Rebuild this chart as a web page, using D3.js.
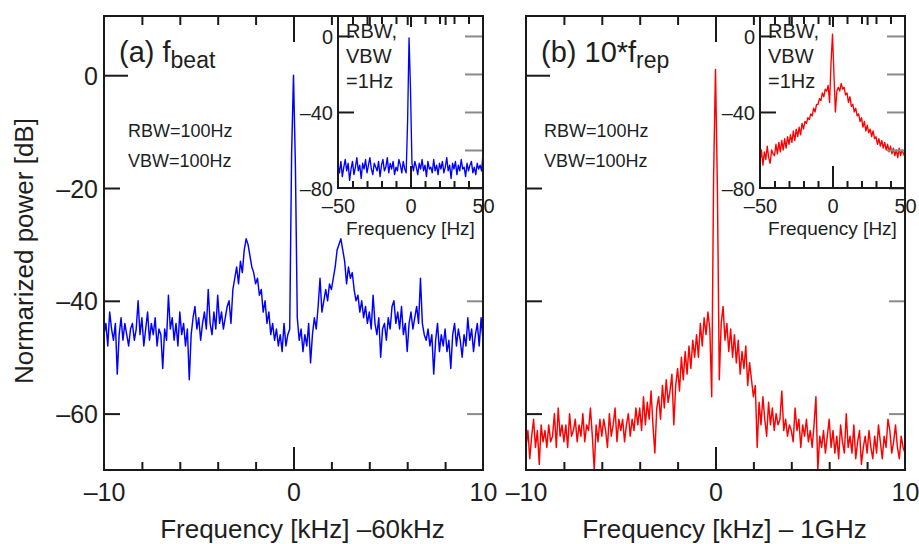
<!DOCTYPE html>
<html><head><meta charset="utf-8">
<script src="https://cdn.jsdelivr.net/npm/d3@7/dist/d3.min.js"></script>
<style>
body{margin:0;background:#fff}
svg{display:block}
text{font-family:"Liberation Sans",Arial,Helvetica,sans-serif;fill:#1e1e1e}
</style>
</head><body>
<svg id="c" width="919" height="544"></svg>
<script>
// ---- sample grids (kHz for main panels, Hz for insets) ----
const mainFreqStart = -10, mainFreqStep = 0.1, mainCount = 201;
const insetFreqStart = -50, insetFreqStep = 1, insetCount = 101;

// ---- (a) f_beat, RBW=VBW=100Hz, dB ----
const beatMain = [
 -46,-44,-48,-42,-45,-47,-44,-53,-46,-43,
 -47,-44,-46,-48,-45,-44,-47,-45,-40,-46,
 -43,-48,-45,-42,-47,-44,-46,-43,-48,-45,
 -46,-52,-45,-47,-39,-45,-43,-47,-44,-48,
 -42,-46,-44,-48,-45,-54,-46,-43,-41,-45,
 -43,-47,-44,-42,-45,-38,-44,-46,-42,-45,
 -39,-44,-42,-45,-43,-41,-40,-44,-38,-36,
 -34,-37,-33,-35,-31,-29,-30,-32,-34,-35,
 -37,-36,-39,-38,-42,-40,-44,-42,-46,-44,
 -47,-45,-48,-46,-49,-44,-48,-46,-45,-14,
 0,
 -16,-43,-47,-45,-49,-46,-48,-44,-51,-46,
 -43,-45,-41,-36,-42,-40,-38,-40,-37,-38,
 -36,-34,-31,-30,-29,-31,-33,-37,-34,-36,
 -35,-38,-40,-39,-42,-40,-43,-41,-44,-42,
 -45,-39,-44,-46,-43,-50,-45,-44,-47,-43,
 -45,-41,-40,-44,-42,-45,-41,-46,-44,-49,
 -44,-42,-45,-43,-41,-44,-36,-44,-46,-47,
 -45,-48,-46,-53,-47,-44,-49,-46,-48,-45,
 -49,-47,-52,-46,-44,-48,-45,-47,-50,-46,
 -48,-43,-47,-45,-49,-46,-44,-48,-43,-47
];
// ---- (b) 10*f_rep, RBW=VBW=100Hz, dB ----
const repMain = [
 -66,-63,-68,-64,-61,-66,-63,-69,-62,-65,
 -63,-66,-62,-65,-64,-60,-66,-59,-64,-62,
 -65,-62,-66,-60,-64,-63,-61,-65,-62,-64,
 -60,-65,-62,-63,-59,-64,-70,-62,-65,-61,
 -64,-61,-63,-66,-60,-64,-62,-59,-65,-61,
 -63,-61,-65,-62,-60,-64,-61,-63,-59,-62,
 -59,-63,-57,-62,-58,-61,-56,-62,-67,-59,
 -57,-61,-55,-59,-54,-58,-56,-53,-62,-55,
 -52,-56,-50,-54,-49,-53,-48,-52,-47,-50,
 -46,-50,-44,-48,-43,-46,-42,-45,-57,-18,
 1,
 -20,-54,-44,-41,-47,-44,-49,-45,-50,-46,
 -51,-47,-53,-49,-52,-48,-55,-51,-54,-57,
 -55,-66,-58,-62,-57,-61,-64,-58,-62,-59,
 -63,-60,-62,-61,-56,-63,-61,-64,-62,-63,
 -65,-59,-63,-61,-66,-62,-64,-61,-65,-63,
 -66,-62,-57,-70,-64,-66,-63,-67,-64,-61,
 -66,-63,-67,-64,-68,-62,-65,-67,-60,-66,
 -64,-67,-62,-68,-65,-63,-69,-66,-64,-67,
 -63,-66,-68,-64,-67,-62,-65,-68,-64,-66,
 -61,-63,-67,-65,-62,-66,-68,-64,-66,-67
];
// ---- insets, RBW=VBW=1Hz, dB ----
const beatInset = [
 -68,-72,-66,-74,-69,-65,-71,-67,-76,-70,
 -66,-73,-69,-64,-71,-68,-75,-67,-70,-65,
 -72,-68,-64,-70,-73,-67,-69,-71,-66,-74,
 -68,-65,-71,-69,-64,-72,-67,-70,-66,-73,
 -69,-71,-65,-68,-72,-66,-70,-72,-45,-1,
 -28,-67,-71,-66,-69,-73,-67,-70,-65,-71,
 -68,-74,-66,-70,-69,-72,-65,-71,-68,-73,
 -67,-70,-66,-72,-69,-64,-71,-68,-75,-67,
 -70,-66,-73,-68,-71,-65,-70,-69,-74,-67,
 -71,-68,-66,-72,-69,-73,-67,-70,-68,-71,
 -62
];
const repInset = [
 -66,-60,-68,-61,-65,-58,-64,-67,-60,-62,
 -63,-57,-62,-56,-61,-55,-60,-54,-59,-53,
 -57,-52,-56,-50,-55,-49,-53,-48,-52,-46,
 -49,-45,-46,-43,-44,-41,-42,-38,-40,-36,
 -36,-33,-34,-30,-32,-28,-29,-26,-35,-14,
 1,-20,-40,-29,-27,-29,-25,-28,-27,-31,
 -30,-35,-32,-37,-36,-40,-38,-42,-41,-45,
 -43,-48,-45,-50,-47,-51,-49,-53,-50,-54,
 -53,-57,-54,-58,-55,-59,-56,-60,-57,-61,
 -58,-62,-59,-63,-60,-64,-59,-63,-60,-62,
 -64
];

// ---- ticks & labels ----
const mainYTicks = [0, -20, -40, -60];
const mainXTicks = [-10, -8, -6, -4, -2, 0, 2, 4, 6, 8, 10];
const mainXLabels = [-10, 0, 10];
const insetYLeftTicks = [0, -40, -80];
const insetYRightTicks = [0, -20, -40, -60];
const insetXTicks = [-50, -40, -30, -20, -10, 0, 10, 20, 30, 40, 50];
const insetXLabels = [-50, 0, 50];
const yTitle = "Normarized power [dB]";
const insetXTitle = "Frequency [Hz]";
const insetNote = ["RBW,", "VBW", "=1Hz"];
const mainNote = ["RBW=100Hz", "VBW=100Hz"];

const panels = [
  {id: "a", left: 104, color: "#0000ff", main: beatMain, inset: beatInset,
   label: "(a) f", sub: "beat", xTitle: "Frequency [kHz] \u201360kHz", yLabels: true},
  {id: "b", left: 526, color: "#ff0000", main: repMain, inset: repInset,
   label: "(b) 10*f", sub: "rep", xTitle: "Frequency [kHz] \u2013 1GHz", yLabels: false}
];

const fmt = d => d < 0 ? "\u2013" + Math.abs(d) : String(d);
const svg = d3.select("#c");
const FRAME = "#1a1a1a", GREY = "#8a8a8a";
const mainF = d3.range(mainCount).map(i => mainFreqStart + i * mainFreqStep);
const insetF = d3.range(insetCount).map(i => insetFreqStart + i * insetFreqStep);

function styleAxis(g, color, width) {
  g.select(".domain").remove();
  g.selectAll(".tick line").attr("stroke", color).attr("stroke-width", width);
  g.selectAll(".tick text").attr("fill", "#1e1e1e").style("font-family", '"Liberation Sans",Arial,sans-serif');
}

panels.forEach(p => {
  const L = p.left, R = p.left + 379, T = 16, B = 470;
  const x = d3.scaleLinear().domain([-10, 10]).range([L, R]);
  const y = d3.scaleLinear().domain([-70, 10.5]).range([B, T]);
  const g = svg.append("g");

  g.append("clipPath").attr("id", "clip" + p.id)
    .append("rect").attr("x", L).attr("y", T).attr("width", R - L).attr("height", B - T);

  // main trace
  const line = d3.line().x((d, i) => x(mainF[i])).y(d => y(d));
  g.append("path").datum(p.main).attr("d", line)
    .attr("fill", "none").attr("stroke", p.color).attr("stroke-width", 1.45)
    .attr("stroke-linejoin", "round").attr("clip-path", `url(#clip${p.id})`);

  // left axis (inward ticks)
  const ga = g.append("g").attr("transform", `translate(${L},0)`)
    .call(d3.axisLeft(y).tickValues(mainYTicks).tickSize(-16).tickFormat(p.yLabels ? fmt : () => ""));
  styleAxis(ga, FRAME, 2);
  ga.selectAll(".tick line").attr("x2", d => d === 0 ? 24 : 16);
  ga.selectAll(".tick text").attr("x", -6).attr("dy", "0.36em").style("font-size", "25px");

  // right axis (grey mirror ticks)
  const gr = g.append("g").attr("transform", `translate(${R},0)`)
    .call(d3.axisRight(y).tickValues(mainYTicks).tickSize(-16).tickFormat(() => ""));
  styleAxis(gr, GREY, 2);

  // bottom axis
  const gb = g.append("g").attr("transform", `translate(0,${B})`)
    .call(d3.axisBottom(x).tickValues(mainXTicks).tickSize(-8)
      .tickFormat(d => mainXLabels.includes(d) ? fmt(d) : ""));
  styleAxis(gb, FRAME, 2);
  gb.selectAll(".tick line").attr("y2", d => d === 0 ? -23 : (Math.abs(d) === 10 ? 0 : -8));
  gb.selectAll(".tick text").attr("y", 31).attr("dy", null).style("font-size", "25px");

  // frame
  g.append("rect").attr("x", L).attr("y", T).attr("width", R - L).attr("height", B - T)
    .attr("fill", "none").attr("stroke", FRAME).attr("stroke-width", 2);

  // x title
  g.append("text").attr("x", (L + R) / 2 + 9).attr("y", 538).attr("text-anchor", "middle")
    .style("font-size", "26px").text(p.xTitle);

  // panel label
  const lt = g.append("text").attr("x", L + 15).attr("y", 62).style("font-size", "29px");
  lt.append("tspan").text(p.label);
  lt.append("tspan").attr("dy", 6).style("font-size", "23px").text(p.sub);

  // RBW note
  mainNote.forEach((t, i) => g.append("text").attr("x", L + 24 - (p.id === "b" ? 6 : 0))
    .attr("y", 137 + i * 30).style("font-size", "18px").text(t));

  // ---- inset ----
  const iL = L + 234, iR = R, iT = T, iB = 188;
  const xi = d3.scaleLinear().domain([-50, 50]).range([iL, iR]);
  const yi = d3.scaleLinear().domain([-80, 10.5]).range([iB, iT]);
  const gi = svg.append("g");
  gi.append("rect").attr("x", iL).attr("y", iT).attr("width", iR - iL).attr("height", iB - iT).attr("fill", "#fff");
  gi.append("clipPath").attr("id", "iclip" + p.id)
    .append("rect").attr("x", iL).attr("y", iT).attr("width", iR - iL).attr("height", iB - iT);
  const iline = d3.line().x((d, i) => xi(insetF[i])).y(d => yi(d));
  gi.append("path").datum(p.inset).attr("d", iline)
    .attr("fill", "none").attr("stroke", p.color).attr("stroke-width", 1.35)
    .attr("stroke-linejoin", "round").attr("clip-path", `url(#iclip${p.id})`);

  const il = gi.append("g").attr("transform", `translate(${iL},0)`)
    .call(d3.axisLeft(yi).tickValues(insetYLeftTicks).tickSize(-16).tickFormat(fmt));
  styleAxis(il, FRAME, 2);
  il.selectAll(".tick line").attr("x2", d => d === -80 ? 0 : 16);
  il.selectAll(".tick text").attr("x", -5).attr("dy", "0.36em").style("font-size", "20px");

  const ir = gi.append("g").attr("transform", `translate(${iR},0)`)
    .call(d3.axisRight(yi).tickValues(insetYRightTicks).tickSize(-18).tickFormat(() => ""));
  styleAxis(ir, GREY, 2);

  const ib = gi.append("g").attr("transform", `translate(0,${iB})`)
    .call(d3.axisBottom(xi).tickValues(insetXTicks).tickSize(-7)
      .tickFormat(d => insetXLabels.includes(d) ? fmt(d) : ""));
  styleAxis(ib, FRAME, 2);
  ib.selectAll(".tick line").attr("y2", d => d === 0 ? -22 : (Math.abs(d) === 50 ? 0 : -7));
  ib.selectAll(".tick text").attr("y", 25).attr("dy", null).style("font-size", "20px");

  const it = gi.append("g").attr("transform", `translate(0,${iT})`)
    .call(d3.axisTop(xi).tickValues(insetXTicks.filter(d => Math.abs(d) < 50)).tickSize(-8).tickFormat(() => ""));
  styleAxis(it, FRAME, 2);
  it.selectAll(".tick line").attr("y2", d => d === 0 ? 11 : 8);

  gi.append("rect").attr("x", iL).attr("y", iT).attr("width", iR - iL).attr("height", iB - iT)
    .attr("fill", "none").attr("stroke", FRAME).attr("stroke-width", 2);

  gi.append("text").attr("x", (iL + iR) / 2).attr("y", 235).attr("text-anchor", "middle")
    .style("font-size", "19px").text(insetXTitle);
  insetNote.forEach((t, i) => gi.append("text").attr("x", iL + 8).attr("y", 38 + i * 25)
    .style("font-size", "20px").text(t));

  // main top ticks drawn last (they show over the inset)
  const gt = svg.append("g").attr("transform", `translate(0,${T})`)
    .call(d3.axisTop(x).tickValues(mainXTicks.filter(d => Math.abs(d) < 10)).tickSize(-9).tickFormat(() => ""));
  styleAxis(gt, FRAME, 2);
  gt.selectAll(".tick line").attr("y2", d => d === 0 ? 26 : 9);
});

// y title
svg.append("text").attr("transform", "translate(33,251) rotate(-90)")
  .attr("text-anchor", "middle").style("font-size", "26px").text(yTitle);
</script>
</body></html>
